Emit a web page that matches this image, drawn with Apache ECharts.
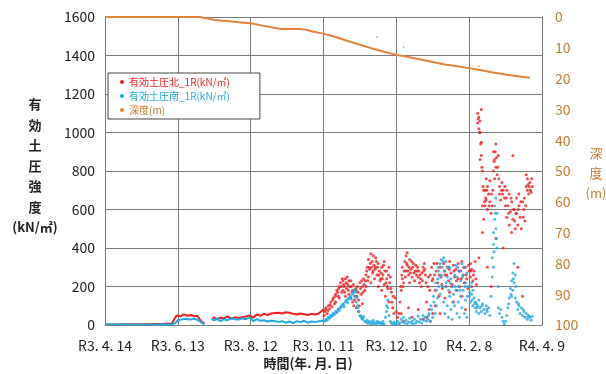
<!DOCTYPE html>
<html>
<head>
<meta charset="utf-8">
<script src="https://cdn.jsdelivr.net/npm/echarts@6/dist/echarts.min.js"></script>
<style>
html,body{margin:0;padding:0;background:#fff;}
#chart{width:606px;height:374px;}
</style>
</head>
<body>
<div id="chart"></div>
<script>
// x軸は R3.4.14 からの日数
var xLabels = ['R3. 4. 14','R3. 6. 13','R3. 8. 12','R3. 10. 11','R3. 12. 10','R4. 2. 8','R4. 4. 9'];
var NAME_N = '有効土圧北_1R(kN/㎡)';
var NAME_S = '有効土圧南_1R(kN/㎡)';
var NAME_D = '深度(m)';

var depthDays = [0,20,40,60,78,82,86,90,100,110,120,130,140,145,150,160,165,170,180,190,200,210,220,230,240,250,260,270,280,290,300,310,320,330,340,350];
var depthVals = [0,0,0,0,0,0.3,0.6,1.0,1.3,1.7,2.0,2.8,3.6,3.9,3.9,3.9,4.1,4.6,5.4,6.5,7.8,9.0,10.2,11.3,12.3,13.0,13.8,14.6,15.4,16.0,16.6,17.3,18.0,18.7,19.2,19.7];
var depthStray = [[224,6.5],[246,9.7],[308,15.9]];

// 前半（連続的な記録）
var northEarly = [[0,3],[10,3],[20,4],[30,4],[40,5],[50,6],[55,8],[57,30],[59,50],[62,45],[65,55],[68,48],[71,52],[74,45],[76,48],[78,30],[80,15],[82,8],[85,null],
	[88,30],[90,40],[92,28],[95,38],[98,35],[101,45],[104,32],[107,40],[110,36],[113,40],[116,44],[119,50],[122,38],[125,55],[128,48],[131,58],[134,52],[137,60],[140,62],[143,64],[146,60],[149,66],[152,64],[155,58],[158,55],[161,60],[164,56],[167,52],[170,58],[173,55],[176,60],[178,70],[180,80]];
var southEarly = [[0,2],[10,2],[20,2],[30,3],[40,3],[50,3],[55,4],[58,10],[60,25],[63,28],[65,32],[68,30],[70,28],[73,32],[75,30],[78,20],[80,10],[82,5],[85,null],
	[88,30],[90,24],[92,35],[95,20],[98,30],[101,25],[104,35],[107,30],[110,28],[113,35],[116,30],[119,40],[122,20],[125,30],[128,22],[131,25],[134,18],[137,22],[140,20],[143,15],[146,20],[149,12],[152,18],[155,10],[158,20],[161,15],[164,22],[167,12],[170,18],[173,15],[176,20],[180,22]];

// 後半（ばらつきの大きい記録）
var northPtsA = [[181,70],[182,90],[183,60],[184,100],[185,85],[186,120],[187,95],[188,140],[189,110],[190,160],[190,120],[191,180],[192,150],[193,200],[193,140],[194,220],[195,170],
	[196,230],[196,180],[197,200],[198,150],[198,240],[199,190],[200,210],[201,160],[201,230],[202,140],[203,200],[204,120],[204,180],[205,100],[206,150],
	[207,90],[207,180],[208,200],[209,130],[209,70],[210,220],[211,160],[212,200],[212,110],[213,240],[214,180],
	[215,260],[215,200],[216,300],[217,250],[217,340],[218,290],[219,370],[219,220],[220,330],[221,280],[221,360],[222,240],[223,300],[223,350],[224,260],[225,320],[225,200],[226,280],[227,240],
	[228,300],[228,180],[229,260],[230,330],[230,210],[231,150],[232,280],[232,240],[233,190],[234,300],[234,120],[235,250],[236,170],[237,90],[238,60],[239,140],
	[240,70],[241,40],[242,60],[243,120],
	[244,180],[245,240],[245,300],[246,220],[247,330],[248,280],[248,360],[249,375],[249,310],[250,260],[251,340],[251,220],[252,290],[253,250],[254,320],[255,230],
	[244,60],[246,20],[250,90],[253,40],[258,80],[262,30],
	[256,310],[257,280],[258,250],[259,220],[260,240],[261,270],[262,300],[263,320],[264,260],
	[265,120],[265,40],[266,200],[267,80],[268,260],[268,20],[269,300],[270,240],[270,60],[271,320],[272,180],[272,100],[273,280],[274,220],[275,150],[276,300],[276,60],[277,250],[278,190],[279,320],[280,140],[280,260],[281,200],[282,300],[283,230],[284,170],[284,330],[285,270],[286,210],[287,310],[287,120],[288,250],[289,290],[290,180],[291,240],[291,320],[292,200],[293,280],[294,150],[294,330],[295,260],[296,220],[297,300],[297,80],[298,240],[299,190],[300,280],
	[301,250],[301,320],[302,200],[302,290],[303,230],[304,280],[305,330],[306,210],
	[307,1050],[307,1100],[308,1080],[308,1020],[309,1000],[309,1060],[310,1120],[310,950],[310,880],[311,800],[311,620],[312,700],[312,550],[309,860],[311,480],[308,350],
	[313,620],[313,700],[314,760],[314,650],[315,600],[315,720],[316,680],[317,640],[317,750],[318,580],[319,620],
	[320,900],[320,800],[321,860],[321,760],[322,940],[322,820],[323,780],[324,880],
	[325,720],[325,680],[326,650],[327,740],[328,700],[329,660],[330,620],
	[331,700],[331,560],[332,620],[333,520],[333,680],[334,590],[335,480],[335,640],[336,550],[337,600],[338,500],[336,880],
	[339,580],[339,660],[340,520],[341,620],[341,680],[342,560],[343,500],[344,640],[345,600],[346,540],[347,720],[347,780],
	[348,700],[348,760],[349,680],[350,740],[351,690],[352,720],
	[315,300],[318,200],[322,450],[328,400],[340,300],[344,150]];
var northPtsB = [[180.5,50],[181.5,80],[183.5,75],[185.5,105],[187.5,130],[189.5,150],[191.5,170],[192.5,190],[194.5,200],[195.5,240],[196.5,210],[197.5,170],[198.5,220],[199.5,250],[200.5,180],[201.5,200],[202.5,230],[203.5,170],[204.5,210],[205.5,130],[206.5,190],[207.5,150],[208.5,170],[209.5,100],[210.5,190],[211.5,230],[212.5,170],[213.5,210],[214.5,230],[215.5,280],[216.5,230],[217.5,300],[218.5,320],[219.5,300],[220.5,270],[221.5,310],[222.5,290],[223.5,330],[224.5,300],[225.5,260],[226.5,230],[227.5,270],[228.5,240],[229.5,310],[230.5,280],[231.5,220],[232.5,200],[233.5,260],[234.5,220],[235.5,190],[236.5,120],[237.5,150],
	[243.5,200],[244.5,260],[245.5,200],[246.5,280],[247.5,250],[248.5,320],[249.5,280],[250.5,300],[251.5,270],[252.5,330],[253.5,300],[254.5,270],[255.5,280],[256.5,260],[257.5,300],[258.5,280],[259.5,260],[260.5,200],[261.5,230],[262.5,280],[263.5,290],[264.5,220],[266.5,250],[267.5,180],[269.5,230],[271.5,260],[273.5,320],[275.5,260],[277.5,210],[279.5,280],[281.5,260],[283.5,290],[285.5,200],[287.5,280],[289.5,230],[291.5,280],[293.5,240],[295.5,300],[297.5,260],[299.5,310],
	[301.5,280],[303.5,260],[305.5,240],[307.5,1070],[308.5,1000],[309.5,940],[310.5,820],[311.5,720],[312.5,640],[313.5,660],[314.5,700],[316.5,620],[318.5,680],[319.5,700],[320.5,850],[321.5,900],[322.5,870],[323.5,820],[324.5,760],[326.5,700],[327.5,680],[329.5,720],[330.5,660],[332.5,580],[334.5,660],[336.5,600],[337.5,540],[338.5,580],[340.5,600],[342.5,640],[344.5,560],[345.5,660],[346.5,620],[348.5,730],[349.5,720],[350.5,700],[351.5,760]];

var southPtsA = [[181,20],[182,30],[183,25],[184,40],[185,35],[186,50],[187,45],[188,60],[189,55],[190,70],[191,65],[192,80],[193,75],[194,90],
	[195,100],[196,110],[197,95],[198,120],[199,130],[200,115],[201,140],[202,150],[203,135],[204,160],[205,175],[206,185],[206,150],
	[207,170],[207,120],[208,100],[209,70],[210,50],[211,40],[212,30],[213,45],[214,20],
	[215,15],[216,25],[217,10],[218,20],[219,5],[220,15],[221,25],[222,10],[223,5],[224,20],[225,10],[226,15],[227,5],[228,10],[229,20],[230,5],
	[231,40],[232,70],[232,100],[233,130],[233,90],[234,50],[235,20],
	[236,10],[237,5],[238,15],[239,5],[240,10],[241,20],[242,5],[243,10],[244,30],[245,15],[246,40],[247,10],[248,25],[249,5],[250,15],[251,35],[252,10],[253,20],[254,5],[255,30],[256,10],[257,20],[258,45],[259,15],[260,30],[261,10],[262,50],[263,25],[264,40],[265,20],
	[266,30],[267,60],[268,20],[269,80],[270,40],[271,120],[272,60],[273,180],[273,100],[274,240],[274,140],[275,280],[275,200],[276,320],[276,160],[277,340],[277,260],[278,300],[278,200],[279,350],[279,120],[280,280],[280,60],[281,330],[281,220],[282,250],[282,100],[283,180],[283,40],[284,300],[284,150],[285,240],[285,80],[286,200],[286,30],[287,160],[288,260],[288,100],[289,310],[289,180],[290,250],[290,60],[291,200],[291,120],[292,280],[292,40],[293,230],[293,150],[294,320],[294,90],[295,260],[295,180],[296,300],[296,60],[297,220],[297,130],[298,270],[298,40],[299,200],[300,150],
	[301,200],[301,120],[302,160],[302,220],[303,100],[303,180],[304,140],[305,90],[305,120],[306,70],[306,110],[307,100],[308,60],[308,130],[309,90],[310,70],[311,110],[312,80],[313,60],[314,100],[315,70],[316,90],[317,50],
	[318,150],[319,250],[319,350],[320,420],[320,480],[320,300],[321,550],[321,620],[322,660],[322,500],[323,580],[323,400],[324,200],[324,90],[325,60],[326,80],[327,40],[328,20],[329,5],[330,20],
	[331,50],[332,90],[333,140],[334,190],[335,230],[335,150],[336,270],[336,180],[337,320],[337,220],[338,260],[338,140],[339,120],[340,80],[341,100],[342,60],[343,90],[344,50],[345,70],[346,40],[347,60],[348,30],[349,50],[350,40],[351,25],[352,45]];
var southPtsB = [[182.5,28],[184.5,38],[186.5,48],[188.5,58],[190.5,68],[192.5,85],[194.5,95],[196.5,105],[198.5,125],[200.5,135],[202.5,145],[204.5,170],[205.5,180],[207.5,140],[208.5,90],[210.5,45],[212.5,35],[216.5,12],[220.5,8],[224.5,12],[228.5,8],
	[266.5,50],[268.5,100],[270.5,150],[272.5,220],[274.5,300],[276.5,250],[278.5,330],[280.5,200],[282.5,300],[284.5,220],[286.5,120],[288.5,200],[290.5,300],[292.5,180],[294.5,250],[296.5,200],[298.5,150],
	[300.5,170],[302.5,130],[304.5,110],[306.5,90],[310.5,100],[314.5,80],[320.5,380],[321.5,580],[322.5,450],[332.5,110],[334.5,160],[336.5,240],[338.5,200],[340.5,110],[344.5,80],[348.5,45]];

var RED = '#f01e1e', BLUE = '#23a8e2', ORANGE = '#e5803a', ORANGE_TXT = '#c77a34';
var FONT = 'Noto Sans CJK JP';

function depthData(){
	return depthDays.map(function(d, i){ return [d, depthVals[i]]; });
}

function init(){
	var myChart = echarts.init(document.getElementById('chart'));
	var gray = '#7a7a7a';
	myChart.setOption({
		animation:false,
		backgroundColor:'#fff',
		textStyle:{fontFamily:FONT},
		grid:{left:105, right:64, top:17, bottom:49, containLabel:false},
		legend:{
			orient:'vertical',
			left:108, top:73,
			padding:[4,30,4,12],
			itemGap:4,
			itemWidth:4, itemHeight:4,
			icon:'circle',
			backgroundColor:'#fff',
			borderColor:'#444', borderWidth:1,
			textStyle:{fontSize:10, fontFamily:FONT},
			data:[
				{name:NAME_N, textStyle:{color:RED}},
				{name:NAME_S, textStyle:{color:BLUE}},
				{name:NAME_D, textStyle:{color:ORANGE_TXT}}
			]
		},
		xAxis:{
			type:'value', min:0, max:360, interval:60,
			axisLine:{lineStyle:{color:gray}},
			axisTick:{show:false},
			splitLine:{show:true, lineStyle:{color:gray}},
			axisLabel:{
				color:'#222', fontSize:14, margin:14,
				formatter:function(v){ return xLabels[Math.round(v/60)] || ''; }
			}
		},
		yAxis:[{
			type:'value', min:0, max:1600, interval:200,
			axisLine:{show:true, lineStyle:{color:gray}},
			axisTick:{show:true, inside:true, length:4, lineStyle:{color:gray}},
			splitLine:{show:true, lineStyle:{color:gray}},
			axisLabel:{color:'#222', fontSize:14, margin:10, formatter:function(v){ return String(v); }}
		},{
			type:'value', min:0, max:100, interval:10, inverse:true,
			axisLine:{show:true, lineStyle:{color:gray}},
			axisTick:{show:false},
			splitLine:{show:false},
			axisLabel:{color:ORANGE_TXT, fontSize:14, margin:13}
		}],
		graphic:[{
			type:'text', x:35, y:94,
			style:{text:'有\n効\n土\n圧\n強\n度\n(kN/㎡)', textAlign:'center', fill:'#222', font:'bold 13px "' + FONT + '"', lineHeight:20.5}
		},{
			type:'text', x:596, y:143,
			style:{text:'深\n度\n(m)', textAlign:'center', fill:ORANGE_TXT, font:'13px "' + FONT + '"', lineHeight:20}
		},{
			type:'text', x:308, y:357,
			style:{text:'時間(年. 月. 日)', textAlign:'center', fill:'#222', font:'bold 13px "' + FONT + '"'}
		}],
		series:[{
			name:NAME_N, type:'line', data:northEarly, showSymbol:false,
			lineStyle:{color:RED, width:2}, itemStyle:{color:RED}, z:3
		},{
			name:NAME_S, type:'line', data:southEarly, showSymbol:false,
			lineStyle:{color:BLUE, width:2}, itemStyle:{color:BLUE}, z:4
		},{
			name:NAME_N, type:'scatter', data:northPtsA.concat(northPtsB), symbolSize:3,
			itemStyle:{color:RED}, z:3
		},{
			name:NAME_S, type:'scatter', data:southPtsA.concat(southPtsB), symbolSize:3,
			itemStyle:{color:BLUE}, z:4
		},{
			name:NAME_D, type:'line', yAxisIndex:1, data:depthData(), showSymbol:false,
			lineStyle:{color:ORANGE, width:2}, itemStyle:{color:ORANGE}, z:5
		},{
			name:NAME_D, type:'scatter', yAxisIndex:1, data:depthStray, symbolSize:2,
			itemStyle:{color:ORANGE, opacity:0.6}, z:5
		}]
	});
}
init();
</script>
</body>
</html>
